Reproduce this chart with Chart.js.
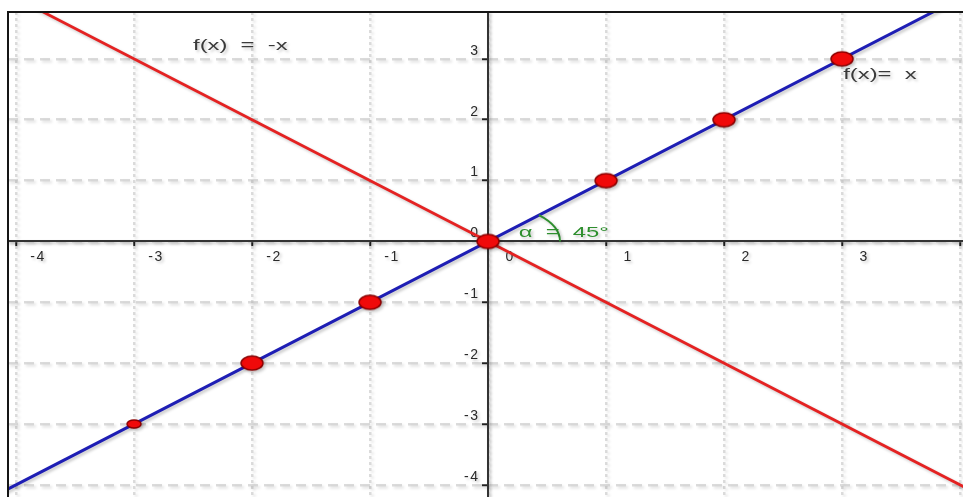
<!DOCTYPE html>
<html>
<head>
<meta charset="utf-8">
<script src="https://cdn.jsdelivr.net/npm/chart.js@4/dist/chart.umd.min.js"></script>
<style>
  html, body { margin: 0; padding: 0; background: #fff; }
  canvas { display: block; background: #fff; }
</style>
</head>
<body>
<canvas id="chart" width="963" height="497"></canvas>
<script>
// tick values of both axes
const xTicks = [-4, -3, -2, -1, 0, 1, 2, 3, 4];
const yTicks = [-4, -3, -2, -1, 0, 1, 2, 3];

// the two straight lines, f(x) = x and f(x) = -x
const lineX = [-4.5, 4.5];
const blueY = [-4.5, 4.5];
const redY = [4.5, -4.5];

// red markers on f(x) = x
const markX = [-3, -2, -1, 0, 1, 2, 3];
const markY = [-3, -2, -1, 0, 1, 2, 3];

const labelMinus = 'f(x)  =  -x';
const labelPlus = 'f(x)=  x';
const labelAngle = 'α  =  45°';

const toPoints = (xs, ys) => xs.map((x, i) => ({ x: x, y: ys[i] }));

// ellipse shaped marker (the picture is stretched sideways)
function ellipseMarker(w, h) {
  const c = document.createElement('canvas');
  c.width = w + 4;
  c.height = h + 4;
  const g = c.getContext('2d');
  g.beginPath();
  g.ellipse(c.width / 2, c.height / 2, w / 2, h / 2, 0, 0, Math.PI * 2);
  g.fillStyle = '#f00a0a';
  g.fill();
  g.lineWidth = 1.5;
  g.strokeStyle = '#8a0000';
  g.stroke();
  return c;
}
const bigMarker = ellipseMarker(22, 14);
const smallMarker = ellipseMarker(14, 8);

const shadowOn = (ctx) => {
  ctx.shadowColor = 'rgba(0,0,0,0.22)';
  ctx.shadowBlur = 3;
  ctx.shadowOffsetX = 2;
  ctx.shadowOffsetY = 2;
};
const shadowOff = (ctx) => {
  ctx.shadowColor = 'rgba(0,0,0,0)';
  ctx.shadowBlur = 0;
  ctx.shadowOffsetX = 0;
  ctx.shadowOffsetY = 0;
};

const stretchText = (ctx, text, x, y, sx) => {
  ctx.save();
  ctx.translate(x, y);
  ctx.scale(sx, 1);
  ctx.fillText(text, 0, 0);
  ctx.restore();
};

const decorPlugin = {
  id: 'decor',
  beforeDraw(chart) {
    const ctx = chart.ctx;
    ctx.letterSpacing = '1.5px';
    shadowOn(ctx);
  },
  beforeDatasetDraw(chart) { shadowOn(chart.ctx); },
  afterDatasetDraw(chart) { shadowOff(chart.ctx); },
  afterDraw(chart) {
    const ctx = chart.ctx;
    const xs = chart.scales.x;
    const ys = chart.scales.y;
    const area = chart.chartArea;
    ctx.save();
    ctx.letterSpacing = '0px';
    shadowOff(ctx);

    // frame (only top and left edges are inside the picture)
    ctx.strokeStyle = '#151515';
    ctx.lineWidth = 2;
    ctx.beginPath();
    ctx.moveTo(area.left, area.bottom);
    ctx.lineTo(area.left, area.top);
    ctx.lineTo(area.right, area.top);
    ctx.stroke();

    // angle arc between x axis and f(x) = x
    const x0 = xs.getPixelForValue(0);
    const y0 = ys.getPixelForValue(0);
    const rx = xs.getPixelForValue(0.61) - x0;
    const ry = y0 - ys.getPixelForValue(0.61);
    shadowOn(ctx);
    ctx.strokeStyle = '#2f8f2f';
    ctx.lineWidth = 2;
    ctx.beginPath();
    ctx.ellipse(x0, y0, rx, ry, 0, -Math.PI / 4, 0);
    ctx.stroke();

    ctx.font = '14px "Liberation Sans", Arial, sans-serif';
    ctx.textBaseline = 'middle';
    ctx.textAlign = 'left';
    ctx.fillStyle = '#2f8f2f';
    stretchText(ctx, labelAngle, xs.getPixelForValue(0.26), ys.getPixelForValue(0.14), 1.7);

    ctx.fillStyle = '#3a3a3a';
    stretchText(ctx, labelMinus, xs.getPixelForValue(-2.5), ys.getPixelForValue(3.21), 1.7);
    stretchText(ctx, labelPlus, xs.getPixelForValue(3.01), ys.getPixelForValue(2.74), 1.7);
    ctx.restore();
  }
};

const fixTicks = (values) => (scale) => {
  scale.ticks = values.map(v => ({ value: v }));
};
const noPadding = (scale) => {
  scale.paddingLeft = 0;
  scale.paddingRight = 0;
  scale.paddingTop = 0;
  scale.paddingBottom = 0;
};

new Chart(document.getElementById('chart'), {
  type: 'scatter',
  data: {
    datasets: [
      {
        label: 'markers',
        data: toPoints(markX, markY),
        showLine: false,
        pointStyle: (c) => c.dataIndex === 0 ? smallMarker : bigMarker,
        pointRadius: 8,
        order: 0
      },
      {
        label: 'f(x) = x',
        data: toPoints(lineX, blueY),
        showLine: true,
        borderColor: '#1e1eb4',
        borderWidth: 3,
        pointRadius: 0,
        order: 1
      },
      {
        label: 'f(x) = -x',
        data: toPoints(lineX, redY),
        showLine: true,
        borderColor: '#e42222',
        borderWidth: 2.8,
        pointRadius: 0,
        order: 2
      }
    ]
  },
  options: {
    responsive: false,
    animation: false,
    events: [],
    layout: { autoPadding: false, padding: { left: 8, top: 12, right: 0, bottom: 0 } },
    plugins: {
      legend: { display: false },
      tooltip: { enabled: false }
    },
    scales: {
      x: {
        type: 'linear',
        position: { y: 0 },
        min: -4.068,
        max: 4.025,
        afterBuildTicks: fixTicks(xTicks),
        afterFit: noPadding,
        grid: {
          color: 'rgba(190,190,190,0.55)',
          lineWidth: 2.5,
          tickLength: 4,
          tickColor: '#222',
          tickWidth: 2
        },
        border: { display: true, color: '#333', width: 2, dash: [3, 3] },
        ticks: {
          autoSkip: false,
          maxRotation: 0,
          labelOffset: 22,
          padding: 3,
          color: '#2a2a2a',
          font: { family: '"Liberation Sans", Arial, sans-serif', size: 14 },
          callback: (v) => v === 4 ? '' : String(v)
        }
      },
      y: {
        type: 'linear',
        position: { x: 0 },
        min: -4.2,
        max: 3.77,
        afterBuildTicks: fixTicks(yTicks),
        afterFit: noPadding,
        grid: {
          color: 'rgba(190,190,190,0.55)',
          lineWidth: 2.5,
          tickLength: 5,
          tickColor: '#222',
          tickWidth: 2
        },
        border: { display: true, color: '#333', width: 2, dash: [10, 6] },
        ticks: {
          autoSkip: false,
          labelOffset: -8,
          padding: 4,
          color: '#2a2a2a',
          font: { family: '"Liberation Sans", Arial, sans-serif', size: 14 },
          // trailing em space keeps the label clear of the axis
          callback: (v) => String(v) + '\u2002'
        }
      }
    }
  },
  plugins: [decorPlugin]
});
</script>
</body>
</html>
